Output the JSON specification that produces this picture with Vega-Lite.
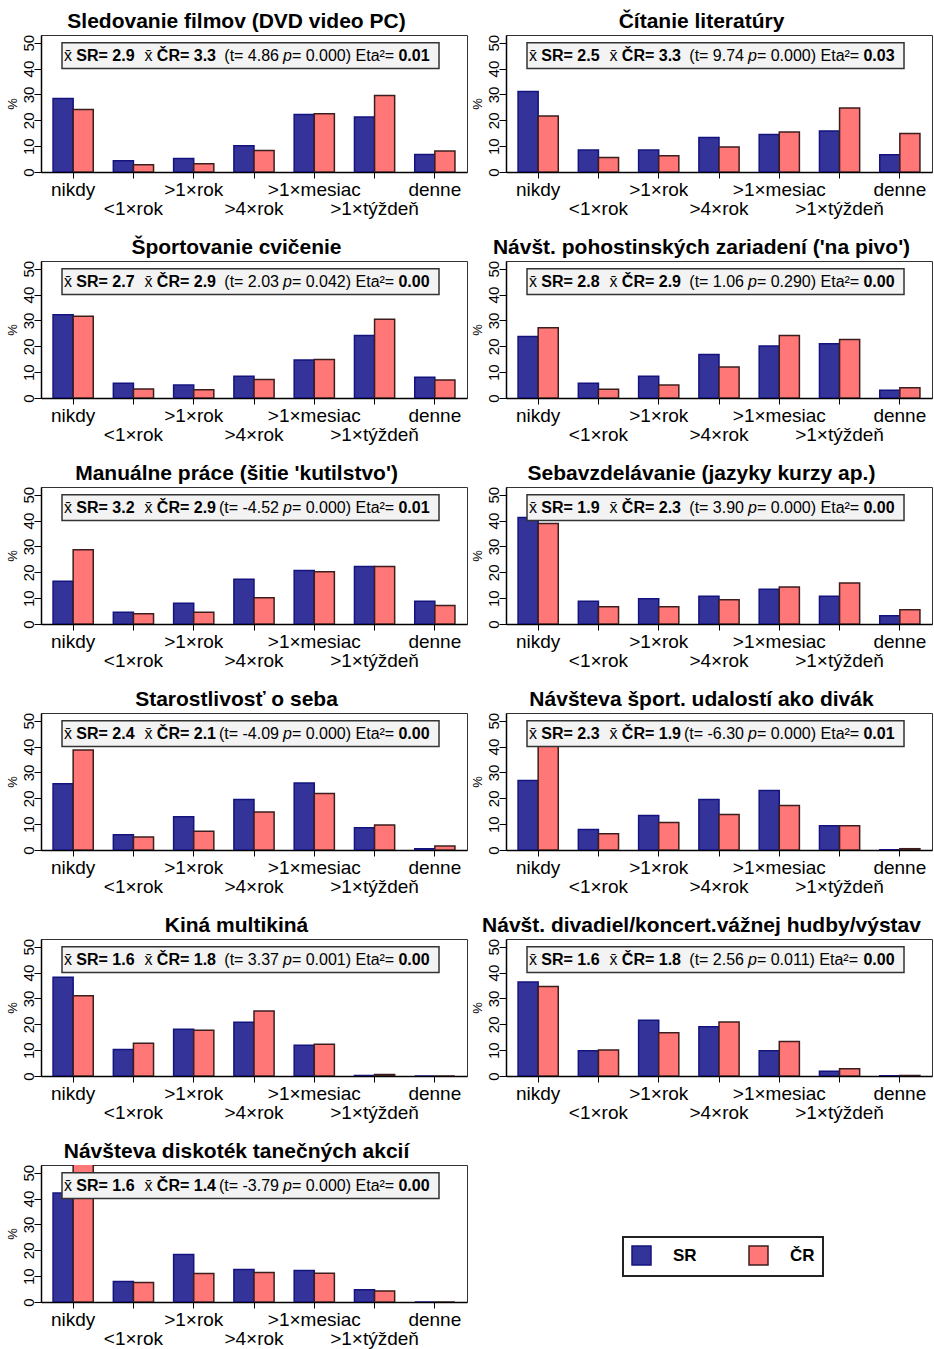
{
"$schema": "https://vega.github.io/schema/vega-lite/v6.json",
"background": "#ffffff",
"padding": {"left": 5, "top": 10, "right": 0, "bottom": 0},
"data": {"values": [
{"panel":1,"cat":"nikdy","country":"SR","pct":28.4},{"panel":1,"cat":"nikdy","country":"ČR","pct":24.2},
{"panel":1,"cat":"<1×rok","country":"SR","pct":4.4},{"panel":1,"cat":"<1×rok","country":"ČR","pct":2.8},
{"panel":1,"cat":">1×rok","country":"SR","pct":5.2},{"panel":1,"cat":">1×rok","country":"ČR","pct":3.2},
{"panel":1,"cat":">4×rok","country":"SR","pct":10.2},{"panel":1,"cat":">4×rok","country":"ČR","pct":8.3},
{"panel":1,"cat":">1×mesiac","country":"SR","pct":22.2},{"panel":1,"cat":">1×mesiac","country":"ČR","pct":22.5},
{"panel":1,"cat":">1×týždeň","country":"SR","pct":21.3},{"panel":1,"cat":">1×týždeň","country":"ČR","pct":29.6},
{"panel":1,"cat":"denne","country":"SR","pct":6.8},{"panel":1,"cat":"denne","country":"ČR","pct":8.1},
{"panel":2,"cat":"nikdy","country":"SR","pct":31.1},{"panel":2,"cat":"nikdy","country":"ČR","pct":21.7},
{"panel":2,"cat":"<1×rok","country":"SR","pct":8.5},{"panel":2,"cat":"<1×rok","country":"ČR","pct":5.6},
{"panel":2,"cat":">1×rok","country":"SR","pct":8.5},{"panel":2,"cat":">1×rok","country":"ČR","pct":6.3},
{"panel":2,"cat":">4×rok","country":"SR","pct":13.3},{"panel":2,"cat":">4×rok","country":"ČR","pct":9.7},
{"panel":2,"cat":">1×mesiac","country":"SR","pct":14.5},{"panel":2,"cat":">1×mesiac","country":"ČR","pct":15.5},
{"panel":2,"cat":">1×týždeň","country":"SR","pct":15.9},{"panel":2,"cat":">1×týždeň","country":"ČR","pct":24.8},
{"panel":2,"cat":"denne","country":"SR","pct":6.7},{"panel":2,"cat":"denne","country":"ČR","pct":14.9},
{"panel":3,"cat":"nikdy","country":"SR","pct":32.2},{"panel":3,"cat":"nikdy","country":"ČR","pct":31.6},
{"panel":3,"cat":"<1×rok","country":"SR","pct":5.7},{"panel":3,"cat":"<1×rok","country":"ČR","pct":3.5},
{"panel":3,"cat":">1×rok","country":"SR","pct":5.0},{"panel":3,"cat":">1×rok","country":"ČR","pct":3.2},
{"panel":3,"cat":">4×rok","country":"SR","pct":8.4},{"panel":3,"cat":">4×rok","country":"ČR","pct":7.2},
{"panel":3,"cat":">1×mesiac","country":"SR","pct":14.7},{"panel":3,"cat":">1×mesiac","country":"ČR","pct":14.9},
{"panel":3,"cat":">1×týždeň","country":"SR","pct":24.2},{"panel":3,"cat":">1×týždeň","country":"ČR","pct":30.5},
{"panel":3,"cat":"denne","country":"SR","pct":8.0},{"panel":3,"cat":"denne","country":"ČR","pct":7.0},
{"panel":4,"cat":"nikdy","country":"SR","pct":23.8},{"panel":4,"cat":"nikdy","country":"ČR","pct":27.2},
{"panel":4,"cat":"<1×rok","country":"SR","pct":5.7},{"panel":4,"cat":"<1×rok","country":"ČR","pct":3.4},
{"panel":4,"cat":">1×rok","country":"SR","pct":8.4},{"panel":4,"cat":">1×rok","country":"ČR","pct":5.0},
{"panel":4,"cat":">4×rok","country":"SR","pct":16.8},{"panel":4,"cat":">4×rok","country":"ČR","pct":12.0},
{"panel":4,"cat":">1×mesiac","country":"SR","pct":20.1},{"panel":4,"cat":">1×mesiac","country":"ČR","pct":24.2},
{"panel":4,"cat":">1×týždeň","country":"SR","pct":21.0},{"panel":4,"cat":">1×týždeň","country":"ČR","pct":22.6},
{"panel":4,"cat":"denne","country":"SR","pct":3.0},{"panel":4,"cat":"denne","country":"ČR","pct":4.0},
{"panel":5,"cat":"nikdy","country":"SR","pct":16.5},{"panel":5,"cat":"nikdy","country":"ČR","pct":28.7},
{"panel":5,"cat":"<1×rok","country":"SR","pct":4.5},{"panel":5,"cat":"<1×rok","country":"ČR","pct":4.0},
{"panel":5,"cat":">1×rok","country":"SR","pct":8.0},{"panel":5,"cat":">1×rok","country":"ČR","pct":4.5},
{"panel":5,"cat":">4×rok","country":"SR","pct":17.3},{"panel":5,"cat":">4×rok","country":"ČR","pct":10.2},
{"panel":5,"cat":">1×mesiac","country":"SR","pct":20.7},{"panel":5,"cat":">1×mesiac","country":"ČR","pct":20.2},
{"panel":5,"cat":">1×týždeň","country":"SR","pct":22.2},{"panel":5,"cat":">1×týždeň","country":"ČR","pct":22.2},
{"panel":5,"cat":"denne","country":"SR","pct":8.8},{"panel":5,"cat":"denne","country":"ČR","pct":7.2},
{"panel":6,"cat":"nikdy","country":"SR","pct":41.2},{"panel":6,"cat":"nikdy","country":"ČR","pct":38.9},
{"panel":6,"cat":"<1×rok","country":"SR","pct":8.8},{"panel":6,"cat":"<1×rok","country":"ČR","pct":6.7},
{"panel":6,"cat":">1×rok","country":"SR","pct":9.8},{"panel":6,"cat":">1×rok","country":"ČR","pct":6.7},
{"panel":6,"cat":">4×rok","country":"SR","pct":10.7},{"panel":6,"cat":">4×rok","country":"ČR","pct":9.4},
{"panel":6,"cat":">1×mesiac","country":"SR","pct":13.4},{"panel":6,"cat":">1×mesiac","country":"ČR","pct":14.3},
{"panel":6,"cat":">1×týždeň","country":"SR","pct":10.7},{"panel":6,"cat":">1×týždeň","country":"ČR","pct":15.9},
{"panel":6,"cat":"denne","country":"SR","pct":3.2},{"panel":6,"cat":"denne","country":"ČR","pct":5.5},
{"panel":7,"cat":"nikdy","country":"SR","pct":25.6},{"panel":7,"cat":"nikdy","country":"ČR","pct":38.7},
{"panel":7,"cat":"<1×rok","country":"SR","pct":5.9},{"panel":7,"cat":"<1×rok","country":"ČR","pct":5.0},
{"panel":7,"cat":">1×rok","country":"SR","pct":12.9},{"panel":7,"cat":">1×rok","country":"ČR","pct":7.3},
{"panel":7,"cat":">4×rok","country":"SR","pct":19.5},{"panel":7,"cat":">4×rok","country":"ČR","pct":14.7},
{"panel":7,"cat":">1×mesiac","country":"SR","pct":25.9},{"panel":7,"cat":">1×mesiac","country":"ČR","pct":21.9},
{"panel":7,"cat":">1×týždeň","country":"SR","pct":8.6},{"panel":7,"cat":">1×týždeň","country":"ČR","pct":9.7},
{"panel":7,"cat":"denne","country":"SR","pct":0.5},{"panel":7,"cat":"denne","country":"ČR","pct":1.5},
{"panel":8,"cat":"nikdy","country":"SR","pct":26.9},{"panel":8,"cat":"nikdy","country":"ČR","pct":42.9},
{"panel":8,"cat":"<1×rok","country":"SR","pct":7.9},{"panel":8,"cat":"<1×rok","country":"ČR","pct":6.3},
{"panel":8,"cat":">1×rok","country":"SR","pct":13.3},{"panel":8,"cat":">1×rok","country":"ČR","pct":10.6},
{"panel":8,"cat":">4×rok","country":"SR","pct":19.5},{"panel":8,"cat":">4×rok","country":"ČR","pct":13.7},
{"panel":8,"cat":">1×mesiac","country":"SR","pct":23.0},{"panel":8,"cat":">1×mesiac","country":"ČR","pct":17.2},
{"panel":8,"cat":">1×týždeň","country":"SR","pct":9.4},{"panel":8,"cat":">1×týždeň","country":"ČR","pct":9.4},
{"panel":8,"cat":"denne","country":"SR","pct":0.1},{"panel":8,"cat":"denne","country":"ČR","pct":0.5},
{"panel":9,"cat":"nikdy","country":"SR","pct":38.2},{"panel":9,"cat":"nikdy","country":"ČR","pct":31.0},
{"panel":9,"cat":"<1×rok","country":"SR","pct":10.3},{"panel":9,"cat":"<1×rok","country":"ČR","pct":12.7},
{"panel":9,"cat":">1×rok","country":"SR","pct":18.1},{"panel":9,"cat":">1×rok","country":"ČR","pct":17.7},
{"panel":9,"cat":">4×rok","country":"SR","pct":20.8},{"panel":9,"cat":">4×rok","country":"ČR","pct":25.1},
{"panel":9,"cat":">1×mesiac","country":"SR","pct":11.9},{"panel":9,"cat":">1×mesiac","country":"ČR","pct":12.3},
{"panel":9,"cat":">1×týždeň","country":"SR","pct":0.2},{"panel":9,"cat":">1×týždeň","country":"ČR","pct":0.6},
{"panel":9,"cat":"denne","country":"SR","pct":0},{"panel":9,"cat":"denne","country":"ČR","pct":0},
{"panel":10,"cat":"nikdy","country":"SR","pct":36.4},{"panel":10,"cat":"nikdy","country":"ČR","pct":34.6},
{"panel":10,"cat":"<1×rok","country":"SR","pct":9.8},{"panel":10,"cat":"<1×rok","country":"ČR","pct":10.1},
{"panel":10,"cat":">1×rok","country":"SR","pct":21.6},{"panel":10,"cat":">1×rok","country":"ČR","pct":16.7},
{"panel":10,"cat":">4×rok","country":"SR","pct":19.1},{"panel":10,"cat":">4×rok","country":"ČR","pct":20.9},
{"panel":10,"cat":">1×mesiac","country":"SR","pct":9.8},{"panel":10,"cat":">1×mesiac","country":"ČR","pct":13.3},
{"panel":10,"cat":">1×týždeň","country":"SR","pct":1.8},{"panel":10,"cat":">1×týždeň","country":"ČR","pct":2.8},
{"panel":10,"cat":"denne","country":"SR","pct":0.1},{"panel":10,"cat":"denne","country":"ČR","pct":0.2},
{"panel":11,"cat":"nikdy","country":"SR","pct":42.2},{"panel":11,"cat":"nikdy","country":"ČR","pct":53.5},
{"panel":11,"cat":"<1×rok","country":"SR","pct":7.9},{"panel":11,"cat":"<1×rok","country":"ČR","pct":7.5},
{"panel":11,"cat":">1×rok","country":"SR","pct":18.4},{"panel":11,"cat":">1×rok","country":"ČR","pct":11.0},
{"panel":11,"cat":">4×rok","country":"SR","pct":12.6},{"panel":11,"cat":">4×rok","country":"ČR","pct":11.4},
{"panel":11,"cat":">1×mesiac","country":"SR","pct":12.2},{"panel":11,"cat":">1×mesiac","country":"ČR","pct":11.1},
{"panel":11,"cat":">1×týždeň","country":"SR","pct":4.7},{"panel":11,"cat":">1×týždeň","country":"ČR","pct":4.3},
{"panel":11,"cat":"denne","country":"SR","pct":0},{"panel":11,"cat":"denne","country":"ČR","pct":0},
{"panel":1,"sr":"SR= 2.9","cr":"ČR= 3.3","t":"(t= 4.86","rest":"= 0.000) Eta²=","eta":"0.01"},
{"panel":2,"sr":"SR= 2.5","cr":"ČR= 3.3","t":"(t= 9.74","rest":"= 0.000) Eta²=","eta":"0.03"},
{"panel":3,"sr":"SR= 2.7","cr":"ČR= 2.9","t":"(t= 2.03","rest":"= 0.042) Eta²=","eta":"0.00"},
{"panel":4,"sr":"SR= 2.8","cr":"ČR= 2.9","t":"(t= 1.06","rest":"= 0.290) Eta²=","eta":"0.00"},
{"panel":5,"sr":"SR= 3.2","cr":"ČR= 2.9","t":"(t= -4.52","rest":"= 0.000) Eta²=","eta":"0.01"},
{"panel":6,"sr":"SR= 1.9","cr":"ČR= 2.3","t":"(t= 3.90","rest":"= 0.000) Eta²=","eta":"0.00"},
{"panel":7,"sr":"SR= 2.4","cr":"ČR= 2.1","t":"(t= -4.09","rest":"= 0.000) Eta²=","eta":"0.00"},
{"panel":8,"sr":"SR= 2.3","cr":"ČR= 1.9","t":"(t= -6.30","rest":"= 0.000) Eta²=","eta":"0.01"},
{"panel":9,"sr":"SR= 1.6","cr":"ČR= 1.8","t":"(t= 3.37","rest":"= 0.001) Eta²=","eta":"0.00"},
{"panel":10,"sr":"SR= 1.6","cr":"ČR= 1.8","t":"(t= 2.56","rest":"= 0.011) Eta²=","eta":"0.00"},
{"panel":11,"sr":"SR= 1.6","cr":"ČR= 1.4","t":"(t= -3.79","rest":"= 0.000) Eta²=","eta":"0.00"}
]},
"config": {
  "font": "Liberation Sans",
  "view": {"stroke": "#333333", "strokeWidth": 1},
  "title": {"font": "Liberation Sans", "fontSize": 21, "fontWeight": "bold", "color": "#000000", "anchor": "middle", "frame": "bounds", "baseline": "alphabetic", "offset": 2},
  "axis": {"grid": false, "domainColor": "#000000", "domainWidth": 1.5, "tickColor": "#000000", "tickWidth": 1, "labelColor": "#000000", "labelFont": "Liberation Sans", "titleFont": "Liberation Sans", "titleColor": "#000000"},
  "axisX": {"tickSize": 6, "labelFontSize": 19, "labelPadding": 2, "labelLineHeight": 19, "labelOverlap": false, "labelAngle": 0},
  "axisY": {"tickSize": 7, "tickCount": 6, "labelFontSize": 15, "labelAngle": 270, "labelAlign": "center", "labelBaseline": "alphabetic", "labelPadding": 1, "labelOverlap": false, "labelFlush": false, "titleFontSize": 13, "titleFontWeight": "normal", "titlePadding": 2},
  "text": {"font": "Liberation Sans", "fontSize": 16, "baseline": "middle", "align": "left", "color": "#000000"},
  "legend": {"direction": "horizontal", "symbolType": "square", "symbolSize": 361, "symbolStrokeWidth": 1.5, "labelFont": "Liberation Sans", "labelFontSize": 17, "labelFontWeight": "bold", "labelColor": "#000000", "labelOffset": 21, "columnPadding": 49, "padding": 8, "strokeColor": "#222222", "strokeWidth": 2, "fillColor": "#ffffff", "symbolOpacity": 1}
},
"spacing": 17,
"vconcat": [
{"hconcat": [
{"title": "Sledovanie filmov (DVD video PC)", "width": 426, "height": 137, "transform": [{"filter": "datum.panel == 1"}], "resolve": {"scale": {"x": "independent"}, "axis": {"x": "independent"}},
 "layer": [
  {"transform": [{"filter": "isValid(datum.pct)"}], "mark": {"type": "bar", "clip": true, "strokeWidth": 1.5},
   "encoding": {
    "x": {"field": "cat", "type": "nominal", "sort": ["nikdy","<1×rok",">1×rok",">4×rok",">1×mesiac",">1×týždeň","denne"], "scale": {"paddingInner": 0.333, "paddingOuter": 0.2}, "axis": {"title": null, "labelExpr": "indexof(['<1×rok','>4×rok','>1×týždeň'], datum.value) >= 0 ? ['', datum.label] : datum.label"}},
    "xOffset": {"field": "country", "type": "nominal", "sort": ["SR","ČR"]},
    "y": {"field": "pct", "type": "quantitative", "scale": {"domain": [0,53], "nice": false}, "axis": {"title": "%", "values": [0,10,20,30,40,50], "tickCount": 6, "labelOverlap": false}},
    "color": {"field": "country", "type": "nominal", "scale": {"domain": ["SR","ČR"], "range": ["#333399","#ff7777"]}, "legend": {"title": null, "orient": "none", "legendX": 582, "legendY": 1202}},
    "stroke": {"field": "country", "type": "nominal", "scale": {"domain": ["SR","ČR"], "range": ["#14147f","#3c1e1e"]}, "legend": {"title": null, "orient": "none", "legendX": 582, "legendY": 1202}}}},
  {"transform": [{"filter": "isValid(datum.sr)"}], "layer": [
   {"mark": {"type": "rect", "fill": "#f3f3f3", "stroke": "#333333", "strokeWidth": 1.5}, "encoding": {"x": {"datum": 4.93, "type": "quantitative", "scale": {"domain": [0,100]}, "axis": null}, "x2": {"datum": 93.43}, "y": {"datum": 40, "type": "quantitative"}, "y2": {"datum": 50}}},
   {"mark": {"type": "text"}, "encoding": {"x": {"datum": 5.4, "type": "quantitative", "axis": null}, "y": {"datum": 44.8, "type": "quantitative"}, "text": {"value": "x̄"}}},
   {"mark": {"type": "text", "fontWeight": "bold"}, "encoding": {"x": {"datum": 8.3, "type": "quantitative", "axis": null}, "y": {"datum": 44.8, "type": "quantitative"}, "text": {"field": "sr"}}},
   {"mark": {"type": "text"}, "encoding": {"x": {"datum": 24.3, "type": "quantitative", "axis": null}, "y": {"datum": 44.8, "type": "quantitative"}, "text": {"value": "x̄"}}},
   {"mark": {"type": "text", "fontWeight": "bold"}, "encoding": {"x": {"datum": 27.2, "type": "quantitative", "axis": null}, "y": {"datum": 44.8, "type": "quantitative"}, "text": {"field": "cr"}}},
   {"mark": {"type": "text", "align": "right"}, "encoding": {"x": {"datum": 55.87, "type": "quantitative", "axis": null}, "y": {"datum": 44.8, "type": "quantitative"}, "text": {"field": "t"}}},
   {"mark": {"type": "text", "fontStyle": "italic"}, "encoding": {"x": {"datum": 56.8, "type": "quantitative", "axis": null}, "y": {"datum": 44.8, "type": "quantitative"}, "text": {"value": "p"}}},
   {"mark": {"type": "text"}, "encoding": {"x": {"datum": 58.9, "type": "quantitative", "axis": null}, "y": {"datum": 44.8, "type": "quantitative"}, "text": {"field": "rest"}}},
   {"mark": {"type": "text", "fontWeight": "bold"}, "encoding": {"x": {"datum": 83.9, "type": "quantitative", "axis": null}, "y": {"datum": 44.8, "type": "quantitative"}, "text": {"field": "eta"}}}
  ]}
 ]},
{"title": "Čítanie literatúry", "width": 426, "height": 137, "transform": [{"filter": "datum.panel == 2"}], "resolve": {"scale": {"x": "independent"}, "axis": {"x": "independent"}},
 "layer": [
  {"transform": [{"filter": "isValid(datum.pct)"}], "mark": {"type": "bar", "clip": true, "strokeWidth": 1.5},
   "encoding": {
    "x": {"field": "cat", "type": "nominal", "sort": ["nikdy","<1×rok",">1×rok",">4×rok",">1×mesiac",">1×týždeň","denne"], "scale": {"paddingInner": 0.333, "paddingOuter": 0.2}, "axis": {"title": null, "labelExpr": "indexof(['<1×rok','>4×rok','>1×týždeň'], datum.value) >= 0 ? ['', datum.label] : datum.label"}},
    "xOffset": {"field": "country", "type": "nominal", "sort": ["SR","ČR"]},
    "y": {"field": "pct", "type": "quantitative", "scale": {"domain": [0,53], "nice": false}, "axis": {"title": "%", "values": [0,10,20,30,40,50], "tickCount": 6, "labelOverlap": false}},
    "color": {"field": "country", "type": "nominal", "scale": {"domain": ["SR","ČR"], "range": ["#333399","#ff7777"]}, "legend": {"title": null, "orient": "none", "legendX": 582, "legendY": 1202}},
    "stroke": {"field": "country", "type": "nominal", "scale": {"domain": ["SR","ČR"], "range": ["#14147f","#3c1e1e"]}, "legend": {"title": null, "orient": "none", "legendX": 582, "legendY": 1202}}}},
  {"transform": [{"filter": "isValid(datum.sr)"}], "layer": [
   {"mark": {"type": "rect", "fill": "#f3f3f3", "stroke": "#333333", "strokeWidth": 1.5}, "encoding": {"x": {"datum": 4.93, "type": "quantitative", "scale": {"domain": [0,100]}, "axis": null}, "x2": {"datum": 93.43}, "y": {"datum": 40, "type": "quantitative"}, "y2": {"datum": 50}}},
   {"mark": {"type": "text"}, "encoding": {"x": {"datum": 5.4, "type": "quantitative", "axis": null}, "y": {"datum": 44.8, "type": "quantitative"}, "text": {"value": "x̄"}}},
   {"mark": {"type": "text", "fontWeight": "bold"}, "encoding": {"x": {"datum": 8.3, "type": "quantitative", "axis": null}, "y": {"datum": 44.8, "type": "quantitative"}, "text": {"field": "sr"}}},
   {"mark": {"type": "text"}, "encoding": {"x": {"datum": 24.3, "type": "quantitative", "axis": null}, "y": {"datum": 44.8, "type": "quantitative"}, "text": {"value": "x̄"}}},
   {"mark": {"type": "text", "fontWeight": "bold"}, "encoding": {"x": {"datum": 27.2, "type": "quantitative", "axis": null}, "y": {"datum": 44.8, "type": "quantitative"}, "text": {"field": "cr"}}},
   {"mark": {"type": "text", "align": "right"}, "encoding": {"x": {"datum": 55.87, "type": "quantitative", "axis": null}, "y": {"datum": 44.8, "type": "quantitative"}, "text": {"field": "t"}}},
   {"mark": {"type": "text", "fontStyle": "italic"}, "encoding": {"x": {"datum": 56.8, "type": "quantitative", "axis": null}, "y": {"datum": 44.8, "type": "quantitative"}, "text": {"value": "p"}}},
   {"mark": {"type": "text"}, "encoding": {"x": {"datum": 58.9, "type": "quantitative", "axis": null}, "y": {"datum": 44.8, "type": "quantitative"}, "text": {"field": "rest"}}},
   {"mark": {"type": "text", "fontWeight": "bold"}, "encoding": {"x": {"datum": 83.9, "type": "quantitative", "axis": null}, "y": {"datum": 44.8, "type": "quantitative"}, "text": {"field": "eta"}}}
  ]}
 ]}
], "spacing": 2},
{"hconcat": [
{"title": "Športovanie cvičenie", "width": 426, "height": 137, "transform": [{"filter": "datum.panel == 3"}], "resolve": {"scale": {"x": "independent"}, "axis": {"x": "independent"}},
 "layer": [
  {"transform": [{"filter": "isValid(datum.pct)"}], "mark": {"type": "bar", "clip": true, "strokeWidth": 1.5},
   "encoding": {
    "x": {"field": "cat", "type": "nominal", "sort": ["nikdy","<1×rok",">1×rok",">4×rok",">1×mesiac",">1×týždeň","denne"], "scale": {"paddingInner": 0.333, "paddingOuter": 0.2}, "axis": {"title": null, "labelExpr": "indexof(['<1×rok','>4×rok','>1×týždeň'], datum.value) >= 0 ? ['', datum.label] : datum.label"}},
    "xOffset": {"field": "country", "type": "nominal", "sort": ["SR","ČR"]},
    "y": {"field": "pct", "type": "quantitative", "scale": {"domain": [0,53], "nice": false}, "axis": {"title": "%", "values": [0,10,20,30,40,50], "tickCount": 6, "labelOverlap": false}},
    "color": {"field": "country", "type": "nominal", "scale": {"domain": ["SR","ČR"], "range": ["#333399","#ff7777"]}, "legend": {"title": null, "orient": "none", "legendX": 582, "legendY": 1202}},
    "stroke": {"field": "country", "type": "nominal", "scale": {"domain": ["SR","ČR"], "range": ["#14147f","#3c1e1e"]}, "legend": {"title": null, "orient": "none", "legendX": 582, "legendY": 1202}}}},
  {"transform": [{"filter": "isValid(datum.sr)"}], "layer": [
   {"mark": {"type": "rect", "fill": "#f3f3f3", "stroke": "#333333", "strokeWidth": 1.5}, "encoding": {"x": {"datum": 4.93, "type": "quantitative", "scale": {"domain": [0,100]}, "axis": null}, "x2": {"datum": 93.43}, "y": {"datum": 40, "type": "quantitative"}, "y2": {"datum": 50}}},
   {"mark": {"type": "text"}, "encoding": {"x": {"datum": 5.4, "type": "quantitative", "axis": null}, "y": {"datum": 44.8, "type": "quantitative"}, "text": {"value": "x̄"}}},
   {"mark": {"type": "text", "fontWeight": "bold"}, "encoding": {"x": {"datum": 8.3, "type": "quantitative", "axis": null}, "y": {"datum": 44.8, "type": "quantitative"}, "text": {"field": "sr"}}},
   {"mark": {"type": "text"}, "encoding": {"x": {"datum": 24.3, "type": "quantitative", "axis": null}, "y": {"datum": 44.8, "type": "quantitative"}, "text": {"value": "x̄"}}},
   {"mark": {"type": "text", "fontWeight": "bold"}, "encoding": {"x": {"datum": 27.2, "type": "quantitative", "axis": null}, "y": {"datum": 44.8, "type": "quantitative"}, "text": {"field": "cr"}}},
   {"mark": {"type": "text", "align": "right"}, "encoding": {"x": {"datum": 55.87, "type": "quantitative", "axis": null}, "y": {"datum": 44.8, "type": "quantitative"}, "text": {"field": "t"}}},
   {"mark": {"type": "text", "fontStyle": "italic"}, "encoding": {"x": {"datum": 56.8, "type": "quantitative", "axis": null}, "y": {"datum": 44.8, "type": "quantitative"}, "text": {"value": "p"}}},
   {"mark": {"type": "text"}, "encoding": {"x": {"datum": 58.9, "type": "quantitative", "axis": null}, "y": {"datum": 44.8, "type": "quantitative"}, "text": {"field": "rest"}}},
   {"mark": {"type": "text", "fontWeight": "bold"}, "encoding": {"x": {"datum": 83.9, "type": "quantitative", "axis": null}, "y": {"datum": 44.8, "type": "quantitative"}, "text": {"field": "eta"}}}
  ]}
 ]},
{"title": "Návšt. pohostinských zariadení ('na pivo')", "width": 426, "height": 137, "transform": [{"filter": "datum.panel == 4"}], "resolve": {"scale": {"x": "independent"}, "axis": {"x": "independent"}},
 "layer": [
  {"transform": [{"filter": "isValid(datum.pct)"}], "mark": {"type": "bar", "clip": true, "strokeWidth": 1.5},
   "encoding": {
    "x": {"field": "cat", "type": "nominal", "sort": ["nikdy","<1×rok",">1×rok",">4×rok",">1×mesiac",">1×týždeň","denne"], "scale": {"paddingInner": 0.333, "paddingOuter": 0.2}, "axis": {"title": null, "labelExpr": "indexof(['<1×rok','>4×rok','>1×týždeň'], datum.value) >= 0 ? ['', datum.label] : datum.label"}},
    "xOffset": {"field": "country", "type": "nominal", "sort": ["SR","ČR"]},
    "y": {"field": "pct", "type": "quantitative", "scale": {"domain": [0,53], "nice": false}, "axis": {"title": "%", "values": [0,10,20,30,40,50], "tickCount": 6, "labelOverlap": false}},
    "color": {"field": "country", "type": "nominal", "scale": {"domain": ["SR","ČR"], "range": ["#333399","#ff7777"]}, "legend": {"title": null, "orient": "none", "legendX": 582, "legendY": 1202}},
    "stroke": {"field": "country", "type": "nominal", "scale": {"domain": ["SR","ČR"], "range": ["#14147f","#3c1e1e"]}, "legend": {"title": null, "orient": "none", "legendX": 582, "legendY": 1202}}}},
  {"transform": [{"filter": "isValid(datum.sr)"}], "layer": [
   {"mark": {"type": "rect", "fill": "#f3f3f3", "stroke": "#333333", "strokeWidth": 1.5}, "encoding": {"x": {"datum": 4.93, "type": "quantitative", "scale": {"domain": [0,100]}, "axis": null}, "x2": {"datum": 93.43}, "y": {"datum": 40, "type": "quantitative"}, "y2": {"datum": 50}}},
   {"mark": {"type": "text"}, "encoding": {"x": {"datum": 5.4, "type": "quantitative", "axis": null}, "y": {"datum": 44.8, "type": "quantitative"}, "text": {"value": "x̄"}}},
   {"mark": {"type": "text", "fontWeight": "bold"}, "encoding": {"x": {"datum": 8.3, "type": "quantitative", "axis": null}, "y": {"datum": 44.8, "type": "quantitative"}, "text": {"field": "sr"}}},
   {"mark": {"type": "text"}, "encoding": {"x": {"datum": 24.3, "type": "quantitative", "axis": null}, "y": {"datum": 44.8, "type": "quantitative"}, "text": {"value": "x̄"}}},
   {"mark": {"type": "text", "fontWeight": "bold"}, "encoding": {"x": {"datum": 27.2, "type": "quantitative", "axis": null}, "y": {"datum": 44.8, "type": "quantitative"}, "text": {"field": "cr"}}},
   {"mark": {"type": "text", "align": "right"}, "encoding": {"x": {"datum": 55.87, "type": "quantitative", "axis": null}, "y": {"datum": 44.8, "type": "quantitative"}, "text": {"field": "t"}}},
   {"mark": {"type": "text", "fontStyle": "italic"}, "encoding": {"x": {"datum": 56.8, "type": "quantitative", "axis": null}, "y": {"datum": 44.8, "type": "quantitative"}, "text": {"value": "p"}}},
   {"mark": {"type": "text"}, "encoding": {"x": {"datum": 58.9, "type": "quantitative", "axis": null}, "y": {"datum": 44.8, "type": "quantitative"}, "text": {"field": "rest"}}},
   {"mark": {"type": "text", "fontWeight": "bold"}, "encoding": {"x": {"datum": 83.9, "type": "quantitative", "axis": null}, "y": {"datum": 44.8, "type": "quantitative"}, "text": {"field": "eta"}}}
  ]}
 ]}
], "spacing": 2},
{"hconcat": [
{"title": "Manuálne práce (šitie 'kutilstvo')", "width": 426, "height": 137, "transform": [{"filter": "datum.panel == 5"}], "resolve": {"scale": {"x": "independent"}, "axis": {"x": "independent"}},
 "layer": [
  {"transform": [{"filter": "isValid(datum.pct)"}], "mark": {"type": "bar", "clip": true, "strokeWidth": 1.5},
   "encoding": {
    "x": {"field": "cat", "type": "nominal", "sort": ["nikdy","<1×rok",">1×rok",">4×rok",">1×mesiac",">1×týždeň","denne"], "scale": {"paddingInner": 0.333, "paddingOuter": 0.2}, "axis": {"title": null, "labelExpr": "indexof(['<1×rok','>4×rok','>1×týždeň'], datum.value) >= 0 ? ['', datum.label] : datum.label"}},
    "xOffset": {"field": "country", "type": "nominal", "sort": ["SR","ČR"]},
    "y": {"field": "pct", "type": "quantitative", "scale": {"domain": [0,53], "nice": false}, "axis": {"title": "%", "values": [0,10,20,30,40,50], "tickCount": 6, "labelOverlap": false}},
    "color": {"field": "country", "type": "nominal", "scale": {"domain": ["SR","ČR"], "range": ["#333399","#ff7777"]}, "legend": {"title": null, "orient": "none", "legendX": 582, "legendY": 1202}},
    "stroke": {"field": "country", "type": "nominal", "scale": {"domain": ["SR","ČR"], "range": ["#14147f","#3c1e1e"]}, "legend": {"title": null, "orient": "none", "legendX": 582, "legendY": 1202}}}},
  {"transform": [{"filter": "isValid(datum.sr)"}], "layer": [
   {"mark": {"type": "rect", "fill": "#f3f3f3", "stroke": "#333333", "strokeWidth": 1.5}, "encoding": {"x": {"datum": 4.93, "type": "quantitative", "scale": {"domain": [0,100]}, "axis": null}, "x2": {"datum": 93.43}, "y": {"datum": 40, "type": "quantitative"}, "y2": {"datum": 50}}},
   {"mark": {"type": "text"}, "encoding": {"x": {"datum": 5.4, "type": "quantitative", "axis": null}, "y": {"datum": 44.8, "type": "quantitative"}, "text": {"value": "x̄"}}},
   {"mark": {"type": "text", "fontWeight": "bold"}, "encoding": {"x": {"datum": 8.3, "type": "quantitative", "axis": null}, "y": {"datum": 44.8, "type": "quantitative"}, "text": {"field": "sr"}}},
   {"mark": {"type": "text"}, "encoding": {"x": {"datum": 24.3, "type": "quantitative", "axis": null}, "y": {"datum": 44.8, "type": "quantitative"}, "text": {"value": "x̄"}}},
   {"mark": {"type": "text", "fontWeight": "bold"}, "encoding": {"x": {"datum": 27.2, "type": "quantitative", "axis": null}, "y": {"datum": 44.8, "type": "quantitative"}, "text": {"field": "cr"}}},
   {"mark": {"type": "text", "align": "right"}, "encoding": {"x": {"datum": 55.87, "type": "quantitative", "axis": null}, "y": {"datum": 44.8, "type": "quantitative"}, "text": {"field": "t"}}},
   {"mark": {"type": "text", "fontStyle": "italic"}, "encoding": {"x": {"datum": 56.8, "type": "quantitative", "axis": null}, "y": {"datum": 44.8, "type": "quantitative"}, "text": {"value": "p"}}},
   {"mark": {"type": "text"}, "encoding": {"x": {"datum": 58.9, "type": "quantitative", "axis": null}, "y": {"datum": 44.8, "type": "quantitative"}, "text": {"field": "rest"}}},
   {"mark": {"type": "text", "fontWeight": "bold"}, "encoding": {"x": {"datum": 83.9, "type": "quantitative", "axis": null}, "y": {"datum": 44.8, "type": "quantitative"}, "text": {"field": "eta"}}}
  ]}
 ]},
{"title": "Sebavzdelávanie (jazyky kurzy ap.)", "width": 426, "height": 137, "transform": [{"filter": "datum.panel == 6"}], "resolve": {"scale": {"x": "independent"}, "axis": {"x": "independent"}},
 "layer": [
  {"transform": [{"filter": "isValid(datum.pct)"}], "mark": {"type": "bar", "clip": true, "strokeWidth": 1.5},
   "encoding": {
    "x": {"field": "cat", "type": "nominal", "sort": ["nikdy","<1×rok",">1×rok",">4×rok",">1×mesiac",">1×týždeň","denne"], "scale": {"paddingInner": 0.333, "paddingOuter": 0.2}, "axis": {"title": null, "labelExpr": "indexof(['<1×rok','>4×rok','>1×týždeň'], datum.value) >= 0 ? ['', datum.label] : datum.label"}},
    "xOffset": {"field": "country", "type": "nominal", "sort": ["SR","ČR"]},
    "y": {"field": "pct", "type": "quantitative", "scale": {"domain": [0,53], "nice": false}, "axis": {"title": "%", "values": [0,10,20,30,40,50], "tickCount": 6, "labelOverlap": false}},
    "color": {"field": "country", "type": "nominal", "scale": {"domain": ["SR","ČR"], "range": ["#333399","#ff7777"]}, "legend": {"title": null, "orient": "none", "legendX": 582, "legendY": 1202}},
    "stroke": {"field": "country", "type": "nominal", "scale": {"domain": ["SR","ČR"], "range": ["#14147f","#3c1e1e"]}, "legend": {"title": null, "orient": "none", "legendX": 582, "legendY": 1202}}}},
  {"transform": [{"filter": "isValid(datum.sr)"}], "layer": [
   {"mark": {"type": "rect", "fill": "#f3f3f3", "stroke": "#333333", "strokeWidth": 1.5}, "encoding": {"x": {"datum": 4.93, "type": "quantitative", "scale": {"domain": [0,100]}, "axis": null}, "x2": {"datum": 93.43}, "y": {"datum": 40, "type": "quantitative"}, "y2": {"datum": 50}}},
   {"mark": {"type": "text"}, "encoding": {"x": {"datum": 5.4, "type": "quantitative", "axis": null}, "y": {"datum": 44.8, "type": "quantitative"}, "text": {"value": "x̄"}}},
   {"mark": {"type": "text", "fontWeight": "bold"}, "encoding": {"x": {"datum": 8.3, "type": "quantitative", "axis": null}, "y": {"datum": 44.8, "type": "quantitative"}, "text": {"field": "sr"}}},
   {"mark": {"type": "text"}, "encoding": {"x": {"datum": 24.3, "type": "quantitative", "axis": null}, "y": {"datum": 44.8, "type": "quantitative"}, "text": {"value": "x̄"}}},
   {"mark": {"type": "text", "fontWeight": "bold"}, "encoding": {"x": {"datum": 27.2, "type": "quantitative", "axis": null}, "y": {"datum": 44.8, "type": "quantitative"}, "text": {"field": "cr"}}},
   {"mark": {"type": "text", "align": "right"}, "encoding": {"x": {"datum": 55.87, "type": "quantitative", "axis": null}, "y": {"datum": 44.8, "type": "quantitative"}, "text": {"field": "t"}}},
   {"mark": {"type": "text", "fontStyle": "italic"}, "encoding": {"x": {"datum": 56.8, "type": "quantitative", "axis": null}, "y": {"datum": 44.8, "type": "quantitative"}, "text": {"value": "p"}}},
   {"mark": {"type": "text"}, "encoding": {"x": {"datum": 58.9, "type": "quantitative", "axis": null}, "y": {"datum": 44.8, "type": "quantitative"}, "text": {"field": "rest"}}},
   {"mark": {"type": "text", "fontWeight": "bold"}, "encoding": {"x": {"datum": 83.9, "type": "quantitative", "axis": null}, "y": {"datum": 44.8, "type": "quantitative"}, "text": {"field": "eta"}}}
  ]}
 ]}
], "spacing": 2},
{"hconcat": [
{"title": "Starostlivosť o seba", "width": 426, "height": 137, "transform": [{"filter": "datum.panel == 7"}], "resolve": {"scale": {"x": "independent"}, "axis": {"x": "independent"}},
 "layer": [
  {"transform": [{"filter": "isValid(datum.pct)"}], "mark": {"type": "bar", "clip": true, "strokeWidth": 1.5},
   "encoding": {
    "x": {"field": "cat", "type": "nominal", "sort": ["nikdy","<1×rok",">1×rok",">4×rok",">1×mesiac",">1×týždeň","denne"], "scale": {"paddingInner": 0.333, "paddingOuter": 0.2}, "axis": {"title": null, "labelExpr": "indexof(['<1×rok','>4×rok','>1×týždeň'], datum.value) >= 0 ? ['', datum.label] : datum.label"}},
    "xOffset": {"field": "country", "type": "nominal", "sort": ["SR","ČR"]},
    "y": {"field": "pct", "type": "quantitative", "scale": {"domain": [0,53], "nice": false}, "axis": {"title": "%", "values": [0,10,20,30,40,50], "tickCount": 6, "labelOverlap": false}},
    "color": {"field": "country", "type": "nominal", "scale": {"domain": ["SR","ČR"], "range": ["#333399","#ff7777"]}, "legend": {"title": null, "orient": "none", "legendX": 582, "legendY": 1202}},
    "stroke": {"field": "country", "type": "nominal", "scale": {"domain": ["SR","ČR"], "range": ["#14147f","#3c1e1e"]}, "legend": {"title": null, "orient": "none", "legendX": 582, "legendY": 1202}}}},
  {"transform": [{"filter": "isValid(datum.sr)"}], "layer": [
   {"mark": {"type": "rect", "fill": "#f3f3f3", "stroke": "#333333", "strokeWidth": 1.5}, "encoding": {"x": {"datum": 4.93, "type": "quantitative", "scale": {"domain": [0,100]}, "axis": null}, "x2": {"datum": 93.43}, "y": {"datum": 40, "type": "quantitative"}, "y2": {"datum": 50}}},
   {"mark": {"type": "text"}, "encoding": {"x": {"datum": 5.4, "type": "quantitative", "axis": null}, "y": {"datum": 44.8, "type": "quantitative"}, "text": {"value": "x̄"}}},
   {"mark": {"type": "text", "fontWeight": "bold"}, "encoding": {"x": {"datum": 8.3, "type": "quantitative", "axis": null}, "y": {"datum": 44.8, "type": "quantitative"}, "text": {"field": "sr"}}},
   {"mark": {"type": "text"}, "encoding": {"x": {"datum": 24.3, "type": "quantitative", "axis": null}, "y": {"datum": 44.8, "type": "quantitative"}, "text": {"value": "x̄"}}},
   {"mark": {"type": "text", "fontWeight": "bold"}, "encoding": {"x": {"datum": 27.2, "type": "quantitative", "axis": null}, "y": {"datum": 44.8, "type": "quantitative"}, "text": {"field": "cr"}}},
   {"mark": {"type": "text", "align": "right"}, "encoding": {"x": {"datum": 55.87, "type": "quantitative", "axis": null}, "y": {"datum": 44.8, "type": "quantitative"}, "text": {"field": "t"}}},
   {"mark": {"type": "text", "fontStyle": "italic"}, "encoding": {"x": {"datum": 56.8, "type": "quantitative", "axis": null}, "y": {"datum": 44.8, "type": "quantitative"}, "text": {"value": "p"}}},
   {"mark": {"type": "text"}, "encoding": {"x": {"datum": 58.9, "type": "quantitative", "axis": null}, "y": {"datum": 44.8, "type": "quantitative"}, "text": {"field": "rest"}}},
   {"mark": {"type": "text", "fontWeight": "bold"}, "encoding": {"x": {"datum": 83.9, "type": "quantitative", "axis": null}, "y": {"datum": 44.8, "type": "quantitative"}, "text": {"field": "eta"}}}
  ]}
 ]},
{"title": "Návšteva šport. udalostí ako divák", "width": 426, "height": 137, "transform": [{"filter": "datum.panel == 8"}], "resolve": {"scale": {"x": "independent"}, "axis": {"x": "independent"}},
 "layer": [
  {"transform": [{"filter": "isValid(datum.pct)"}], "mark": {"type": "bar", "clip": true, "strokeWidth": 1.5},
   "encoding": {
    "x": {"field": "cat", "type": "nominal", "sort": ["nikdy","<1×rok",">1×rok",">4×rok",">1×mesiac",">1×týždeň","denne"], "scale": {"paddingInner": 0.333, "paddingOuter": 0.2}, "axis": {"title": null, "labelExpr": "indexof(['<1×rok','>4×rok','>1×týždeň'], datum.value) >= 0 ? ['', datum.label] : datum.label"}},
    "xOffset": {"field": "country", "type": "nominal", "sort": ["SR","ČR"]},
    "y": {"field": "pct", "type": "quantitative", "scale": {"domain": [0,53], "nice": false}, "axis": {"title": "%", "values": [0,10,20,30,40,50], "tickCount": 6, "labelOverlap": false}},
    "color": {"field": "country", "type": "nominal", "scale": {"domain": ["SR","ČR"], "range": ["#333399","#ff7777"]}, "legend": {"title": null, "orient": "none", "legendX": 582, "legendY": 1202}},
    "stroke": {"field": "country", "type": "nominal", "scale": {"domain": ["SR","ČR"], "range": ["#14147f","#3c1e1e"]}, "legend": {"title": null, "orient": "none", "legendX": 582, "legendY": 1202}}}},
  {"transform": [{"filter": "isValid(datum.sr)"}], "layer": [
   {"mark": {"type": "rect", "fill": "#f3f3f3", "stroke": "#333333", "strokeWidth": 1.5}, "encoding": {"x": {"datum": 4.93, "type": "quantitative", "scale": {"domain": [0,100]}, "axis": null}, "x2": {"datum": 93.43}, "y": {"datum": 40, "type": "quantitative"}, "y2": {"datum": 50}}},
   {"mark": {"type": "text"}, "encoding": {"x": {"datum": 5.4, "type": "quantitative", "axis": null}, "y": {"datum": 44.8, "type": "quantitative"}, "text": {"value": "x̄"}}},
   {"mark": {"type": "text", "fontWeight": "bold"}, "encoding": {"x": {"datum": 8.3, "type": "quantitative", "axis": null}, "y": {"datum": 44.8, "type": "quantitative"}, "text": {"field": "sr"}}},
   {"mark": {"type": "text"}, "encoding": {"x": {"datum": 24.3, "type": "quantitative", "axis": null}, "y": {"datum": 44.8, "type": "quantitative"}, "text": {"value": "x̄"}}},
   {"mark": {"type": "text", "fontWeight": "bold"}, "encoding": {"x": {"datum": 27.2, "type": "quantitative", "axis": null}, "y": {"datum": 44.8, "type": "quantitative"}, "text": {"field": "cr"}}},
   {"mark": {"type": "text", "align": "right"}, "encoding": {"x": {"datum": 55.87, "type": "quantitative", "axis": null}, "y": {"datum": 44.8, "type": "quantitative"}, "text": {"field": "t"}}},
   {"mark": {"type": "text", "fontStyle": "italic"}, "encoding": {"x": {"datum": 56.8, "type": "quantitative", "axis": null}, "y": {"datum": 44.8, "type": "quantitative"}, "text": {"value": "p"}}},
   {"mark": {"type": "text"}, "encoding": {"x": {"datum": 58.9, "type": "quantitative", "axis": null}, "y": {"datum": 44.8, "type": "quantitative"}, "text": {"field": "rest"}}},
   {"mark": {"type": "text", "fontWeight": "bold"}, "encoding": {"x": {"datum": 83.9, "type": "quantitative", "axis": null}, "y": {"datum": 44.8, "type": "quantitative"}, "text": {"field": "eta"}}}
  ]}
 ]}
], "spacing": 2},
{"hconcat": [
{"title": "Kiná multikiná", "width": 426, "height": 137, "transform": [{"filter": "datum.panel == 9"}], "resolve": {"scale": {"x": "independent"}, "axis": {"x": "independent"}},
 "layer": [
  {"transform": [{"filter": "isValid(datum.pct)"}], "mark": {"type": "bar", "clip": true, "strokeWidth": 1.5},
   "encoding": {
    "x": {"field": "cat", "type": "nominal", "sort": ["nikdy","<1×rok",">1×rok",">4×rok",">1×mesiac",">1×týždeň","denne"], "scale": {"paddingInner": 0.333, "paddingOuter": 0.2}, "axis": {"title": null, "labelExpr": "indexof(['<1×rok','>4×rok','>1×týždeň'], datum.value) >= 0 ? ['', datum.label] : datum.label"}},
    "xOffset": {"field": "country", "type": "nominal", "sort": ["SR","ČR"]},
    "y": {"field": "pct", "type": "quantitative", "scale": {"domain": [0,53], "nice": false}, "axis": {"title": "%", "values": [0,10,20,30,40,50], "tickCount": 6, "labelOverlap": false}},
    "color": {"field": "country", "type": "nominal", "scale": {"domain": ["SR","ČR"], "range": ["#333399","#ff7777"]}, "legend": {"title": null, "orient": "none", "legendX": 582, "legendY": 1202}},
    "stroke": {"field": "country", "type": "nominal", "scale": {"domain": ["SR","ČR"], "range": ["#14147f","#3c1e1e"]}, "legend": {"title": null, "orient": "none", "legendX": 582, "legendY": 1202}}}},
  {"transform": [{"filter": "isValid(datum.sr)"}], "layer": [
   {"mark": {"type": "rect", "fill": "#f3f3f3", "stroke": "#333333", "strokeWidth": 1.5}, "encoding": {"x": {"datum": 4.93, "type": "quantitative", "scale": {"domain": [0,100]}, "axis": null}, "x2": {"datum": 93.43}, "y": {"datum": 40, "type": "quantitative"}, "y2": {"datum": 50}}},
   {"mark": {"type": "text"}, "encoding": {"x": {"datum": 5.4, "type": "quantitative", "axis": null}, "y": {"datum": 44.8, "type": "quantitative"}, "text": {"value": "x̄"}}},
   {"mark": {"type": "text", "fontWeight": "bold"}, "encoding": {"x": {"datum": 8.3, "type": "quantitative", "axis": null}, "y": {"datum": 44.8, "type": "quantitative"}, "text": {"field": "sr"}}},
   {"mark": {"type": "text"}, "encoding": {"x": {"datum": 24.3, "type": "quantitative", "axis": null}, "y": {"datum": 44.8, "type": "quantitative"}, "text": {"value": "x̄"}}},
   {"mark": {"type": "text", "fontWeight": "bold"}, "encoding": {"x": {"datum": 27.2, "type": "quantitative", "axis": null}, "y": {"datum": 44.8, "type": "quantitative"}, "text": {"field": "cr"}}},
   {"mark": {"type": "text", "align": "right"}, "encoding": {"x": {"datum": 55.87, "type": "quantitative", "axis": null}, "y": {"datum": 44.8, "type": "quantitative"}, "text": {"field": "t"}}},
   {"mark": {"type": "text", "fontStyle": "italic"}, "encoding": {"x": {"datum": 56.8, "type": "quantitative", "axis": null}, "y": {"datum": 44.8, "type": "quantitative"}, "text": {"value": "p"}}},
   {"mark": {"type": "text"}, "encoding": {"x": {"datum": 58.9, "type": "quantitative", "axis": null}, "y": {"datum": 44.8, "type": "quantitative"}, "text": {"field": "rest"}}},
   {"mark": {"type": "text", "fontWeight": "bold"}, "encoding": {"x": {"datum": 83.9, "type": "quantitative", "axis": null}, "y": {"datum": 44.8, "type": "quantitative"}, "text": {"field": "eta"}}}
  ]}
 ]},
{"title": "Návšt. divadiel/koncert.vážnej hudby/výstav", "width": 426, "height": 137, "transform": [{"filter": "datum.panel == 10"}], "resolve": {"scale": {"x": "independent"}, "axis": {"x": "independent"}},
 "layer": [
  {"transform": [{"filter": "isValid(datum.pct)"}], "mark": {"type": "bar", "clip": true, "strokeWidth": 1.5},
   "encoding": {
    "x": {"field": "cat", "type": "nominal", "sort": ["nikdy","<1×rok",">1×rok",">4×rok",">1×mesiac",">1×týždeň","denne"], "scale": {"paddingInner": 0.333, "paddingOuter": 0.2}, "axis": {"title": null, "labelExpr": "indexof(['<1×rok','>4×rok','>1×týždeň'], datum.value) >= 0 ? ['', datum.label] : datum.label"}},
    "xOffset": {"field": "country", "type": "nominal", "sort": ["SR","ČR"]},
    "y": {"field": "pct", "type": "quantitative", "scale": {"domain": [0,53], "nice": false}, "axis": {"title": "%", "values": [0,10,20,30,40,50], "tickCount": 6, "labelOverlap": false}},
    "color": {"field": "country", "type": "nominal", "scale": {"domain": ["SR","ČR"], "range": ["#333399","#ff7777"]}, "legend": {"title": null, "orient": "none", "legendX": 582, "legendY": 1202}},
    "stroke": {"field": "country", "type": "nominal", "scale": {"domain": ["SR","ČR"], "range": ["#14147f","#3c1e1e"]}, "legend": {"title": null, "orient": "none", "legendX": 582, "legendY": 1202}}}},
  {"transform": [{"filter": "isValid(datum.sr)"}], "layer": [
   {"mark": {"type": "rect", "fill": "#f3f3f3", "stroke": "#333333", "strokeWidth": 1.5}, "encoding": {"x": {"datum": 4.93, "type": "quantitative", "scale": {"domain": [0,100]}, "axis": null}, "x2": {"datum": 93.43}, "y": {"datum": 40, "type": "quantitative"}, "y2": {"datum": 50}}},
   {"mark": {"type": "text"}, "encoding": {"x": {"datum": 5.4, "type": "quantitative", "axis": null}, "y": {"datum": 44.8, "type": "quantitative"}, "text": {"value": "x̄"}}},
   {"mark": {"type": "text", "fontWeight": "bold"}, "encoding": {"x": {"datum": 8.3, "type": "quantitative", "axis": null}, "y": {"datum": 44.8, "type": "quantitative"}, "text": {"field": "sr"}}},
   {"mark": {"type": "text"}, "encoding": {"x": {"datum": 24.3, "type": "quantitative", "axis": null}, "y": {"datum": 44.8, "type": "quantitative"}, "text": {"value": "x̄"}}},
   {"mark": {"type": "text", "fontWeight": "bold"}, "encoding": {"x": {"datum": 27.2, "type": "quantitative", "axis": null}, "y": {"datum": 44.8, "type": "quantitative"}, "text": {"field": "cr"}}},
   {"mark": {"type": "text", "align": "right"}, "encoding": {"x": {"datum": 55.87, "type": "quantitative", "axis": null}, "y": {"datum": 44.8, "type": "quantitative"}, "text": {"field": "t"}}},
   {"mark": {"type": "text", "fontStyle": "italic"}, "encoding": {"x": {"datum": 56.8, "type": "quantitative", "axis": null}, "y": {"datum": 44.8, "type": "quantitative"}, "text": {"value": "p"}}},
   {"mark": {"type": "text"}, "encoding": {"x": {"datum": 58.9, "type": "quantitative", "axis": null}, "y": {"datum": 44.8, "type": "quantitative"}, "text": {"field": "rest"}}},
   {"mark": {"type": "text", "fontWeight": "bold"}, "encoding": {"x": {"datum": 83.9, "type": "quantitative", "axis": null}, "y": {"datum": 44.8, "type": "quantitative"}, "text": {"field": "eta"}}}
  ]}
 ]}
], "spacing": 2},
{"title": "Návšteva diskoték tanečných akcií", "width": 426, "height": 137, "transform": [{"filter": "datum.panel == 11"}], "resolve": {"scale": {"x": "independent"}, "axis": {"x": "independent"}},
 "layer": [
  {"transform": [{"filter": "isValid(datum.pct)"}], "mark": {"type": "bar", "clip": true, "strokeWidth": 1.5},
   "encoding": {
    "x": {"field": "cat", "type": "nominal", "sort": ["nikdy","<1×rok",">1×rok",">4×rok",">1×mesiac",">1×týždeň","denne"], "scale": {"paddingInner": 0.333, "paddingOuter": 0.2}, "axis": {"title": null, "labelExpr": "indexof(['<1×rok','>4×rok','>1×týždeň'], datum.value) >= 0 ? ['', datum.label] : datum.label"}},
    "xOffset": {"field": "country", "type": "nominal", "sort": ["SR","ČR"]},
    "y": {"field": "pct", "type": "quantitative", "scale": {"domain": [0,53], "nice": false}, "axis": {"title": "%", "values": [0,10,20,30,40,50], "tickCount": 6, "labelOverlap": false}},
    "color": {"field": "country", "type": "nominal", "scale": {"domain": ["SR","ČR"], "range": ["#333399","#ff7777"]}, "legend": {"title": null, "orient": "none", "legendX": 582, "legendY": 1202}},
    "stroke": {"field": "country", "type": "nominal", "scale": {"domain": ["SR","ČR"], "range": ["#14147f","#3c1e1e"]}, "legend": {"title": null, "orient": "none", "legendX": 582, "legendY": 1202}}}},
  {"transform": [{"filter": "isValid(datum.sr)"}], "layer": [
   {"mark": {"type": "rect", "fill": "#f3f3f3", "stroke": "#333333", "strokeWidth": 1.5}, "encoding": {"x": {"datum": 4.93, "type": "quantitative", "scale": {"domain": [0,100]}, "axis": null}, "x2": {"datum": 93.43}, "y": {"datum": 40, "type": "quantitative"}, "y2": {"datum": 50}}},
   {"mark": {"type": "text"}, "encoding": {"x": {"datum": 5.4, "type": "quantitative", "axis": null}, "y": {"datum": 44.8, "type": "quantitative"}, "text": {"value": "x̄"}}},
   {"mark": {"type": "text", "fontWeight": "bold"}, "encoding": {"x": {"datum": 8.3, "type": "quantitative", "axis": null}, "y": {"datum": 44.8, "type": "quantitative"}, "text": {"field": "sr"}}},
   {"mark": {"type": "text"}, "encoding": {"x": {"datum": 24.3, "type": "quantitative", "axis": null}, "y": {"datum": 44.8, "type": "quantitative"}, "text": {"value": "x̄"}}},
   {"mark": {"type": "text", "fontWeight": "bold"}, "encoding": {"x": {"datum": 27.2, "type": "quantitative", "axis": null}, "y": {"datum": 44.8, "type": "quantitative"}, "text": {"field": "cr"}}},
   {"mark": {"type": "text", "align": "right"}, "encoding": {"x": {"datum": 55.87, "type": "quantitative", "axis": null}, "y": {"datum": 44.8, "type": "quantitative"}, "text": {"field": "t"}}},
   {"mark": {"type": "text", "fontStyle": "italic"}, "encoding": {"x": {"datum": 56.8, "type": "quantitative", "axis": null}, "y": {"datum": 44.8, "type": "quantitative"}, "text": {"value": "p"}}},
   {"mark": {"type": "text"}, "encoding": {"x": {"datum": 58.9, "type": "quantitative", "axis": null}, "y": {"datum": 44.8, "type": "quantitative"}, "text": {"field": "rest"}}},
   {"mark": {"type": "text", "fontWeight": "bold"}, "encoding": {"x": {"datum": 83.9, "type": "quantitative", "axis": null}, "y": {"datum": 44.8, "type": "quantitative"}, "text": {"field": "eta"}}}
  ]}
 ]}
]
}
